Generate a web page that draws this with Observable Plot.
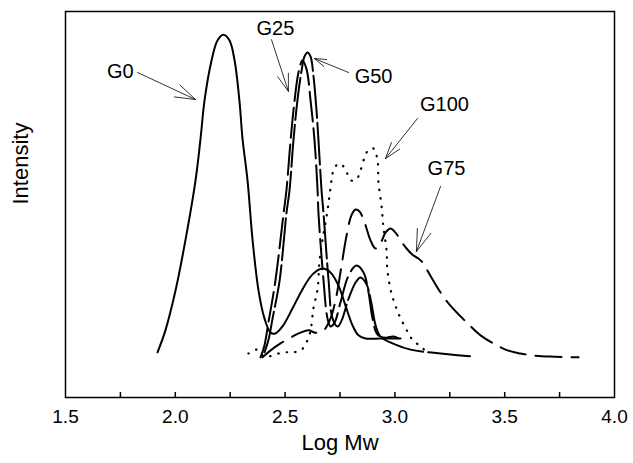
<!DOCTYPE html>
<html>
<head>
<meta charset="utf-8">
<script src="https://cdn.jsdelivr.net/npm/d3@7"></script>
<script src="https://cdn.jsdelivr.net/npm/@observablehq/plot@0.6"></script>
<style>
  html, body { margin: 0; padding: 0; background: #fff; }
  svg { display: block; }
</style>
</head>
<body>
<div id="chart"></div>
<script>
// Series: [Log Mw, intensity]
const G0 = [[1.919,11.7],[1.955,17.4],[2.001,27.7],[2.046,40.7],[2.092,56.2],[2.115,67.1],[2.133,76.9],[2.165,87.3],[2.192,92.5],[2.219,94.0],[2.247,92.5],[2.270,87.3],[2.292,76.9],[2.306,67.1],[2.329,56.2],[2.352,40.7],[2.379,27.7],[2.406,20.5],[2.434,16.8],[2.456,16.6],[2.488,18.4],[2.534,23.1],[2.579,28.0],[2.625,31.9],[2.670,33.4],[2.707,32.4],[2.743,29.0],[2.775,23.8],[2.807,18.7],[2.834,16.1],[2.866,15.3],[2.934,15.3],[3.026,15.3]];
const G25 = [[2.388,10.4],[2.406,13.5],[2.424,19.4],[2.456,30.3],[2.493,47.7],[2.506,53.6],[2.525,66.6],[2.543,76.9],[2.561,84.2],[2.579,87.3],[2.597,85.2],[2.616,76.9],[2.634,66.6],[2.648,53.6],[2.652,47.7],[2.675,30.3],[2.693,20.5],[2.707,18.4],[2.725,19.4],[2.752,24.6],[2.789,31.6],[2.825,34.2],[2.857,32.4],[2.880,27.2],[2.898,20.5],[2.921,16.3],[2.957,15.5],[2.994,15.8],[3.026,15.0]];
const G50 = [[2.406,11.7],[2.424,14.8],[2.443,20.5],[2.475,30.3],[2.506,47.7],[2.520,53.6],[2.538,66.6],[2.556,76.9],[2.575,84.7],[2.588,88.3],[2.602,89.4],[2.616,88.3],[2.629,83.4],[2.643,74.4],[2.652,66.6],[2.666,53.6],[2.675,47.7],[2.698,30.3],[2.716,20.5],[2.739,18.4],[2.757,19.9],[2.789,25.6],[2.821,29.8],[2.843,31.1],[2.871,29.3],[2.893,24.4],[2.912,18.7],[2.934,15.8],[3.003,13.7],[3.071,12.4],[3.208,11.4],[3.358,10.6]];
const G75 = [[2.397,10.4],[2.434,12.2],[2.479,14.0],[2.534,15.8],[2.570,16.8],[2.607,17.4],[2.638,16.8],[2.675,17.4],[2.707,20.5],[2.734,26.4],[2.757,34.2],[2.780,42.0],[2.802,47.2],[2.821,48.7],[2.839,48.2],[2.862,45.3],[2.889,40.7],[2.912,38.6],[2.934,39.9],[2.957,42.7],[2.980,43.8],[3.003,42.7],[3.026,40.7],[3.053,38.6],[3.080,37.0],[3.107,36.0],[3.126,35.0],[3.148,32.9],[3.208,27.2],[3.253,23.8],[3.331,19.2],[3.390,16.1],[3.449,14.0],[3.513,12.2],[3.572,11.4],[3.631,10.9],[3.709,10.6],[3.836,10.4]];
const G100 = [[2.333,11.4],[2.370,12.4],[2.406,10.6],[2.493,11.7],[2.538,11.7],[2.575,12.4],[2.597,14.2],[2.616,17.4],[2.629,23.1],[2.648,28.2],[2.657,35.5],[2.670,40.7],[2.693,48.4],[2.707,54.4],[2.720,58.8],[2.739,60.4],[2.757,60.4],[2.780,58.3],[2.802,56.2],[2.825,56.5],[2.843,58.8],[2.862,62.2],[2.880,64.2],[2.903,64.5],[2.921,61.4],[2.925,55.7],[2.939,49.7],[2.948,44.0],[2.962,38.1],[2.966,32.9],[2.985,26.9],[3.016,21.8],[3.057,17.1],[3.080,15.0],[3.117,13.2],[3.148,11.7]];

// Annotation labels
const labelText = ["G0", "G25", "G50", "G100", "G75"];
const labelX = [1.750, 2.456, 2.903, 3.226, 3.235];
const labelY = [84.5, 95.6, 83.2, 75.9, 59.3];

// Annotation arrows (tail -> tip)
const arrowX1 = [1.828, 2.438, 2.789, 3.103, 3.208];
const arrowY1 = [84.2, 92.7, 84.2, 72.3, 54.7];
const arrowX2 = [2.092, 2.515, 2.634, 2.957, 3.098];
const arrowY2 = [77.2, 79.3, 87.8, 61.9, 37.8];

// Axis ticks
const majorTicks = [1.5, 2.0, 2.5, 3.0, 3.5, 4.0];
const minorTicks = [1.75, 2.0, 2.25, 2.5, 2.75, 3.0, 3.25, 3.5, 3.75];
const xLabel = "Log Mw";
const yLabel = "Intensity";

const labels = labelText.map((t, i) => ({t, x: labelX[i], y: labelY[i]}));
const arrows = arrowX1.map((_, i) => ({x1: arrowX1[i], y1: arrowY1[i], x2: arrowX2[i], y2: arrowY2[i]}));

const font = "'Liberation Sans', Arial, Helvetica, sans-serif";
const line = (data, opts) => Plot.line(data, {x: d => d[0], y: d => d[1], curve: "catmull-rom", stroke: "black", strokeWidth: 2, ...opts});

const chart = Plot.plot({
  width: 633,
  height: 463,
  marginLeft: 65,
  marginRight: 19,
  marginTop: 11,
  marginBottom: 66,
  style: {fontFamily: font, background: "#fff", color: "#000"},
  x: {domain: [1.5, 4.0]},
  y: {domain: [0, 100], axis: null},
  marks: [
    Plot.ruleX(minorTicks, {x: d => d, insetTop: 381, stroke: "black", strokeWidth: 1.5}),
    Plot.axisX({ticks: majorTicks, tickFormat: d => d.toFixed(1), tickSize: 0, tickPadding: 12, fontSize: 19, label: null}),
    line(G0, {}),
    line(G25, {strokeDasharray: "30,7"}),
    line(G50, {strokeDasharray: "42,5"}),
    line(G75, {strokeDasharray: "26,10"}),
    line(G100, {strokeDasharray: "0.5,8", strokeLinecap: "round", strokeWidth: 2.2}),
    Plot.arrow(arrows, {x1: "x1", y1: "y1", x2: "x2", y2: "y2", stroke: "black", strokeWidth: 0.8, headLength: 45, headAngle: 36}),
    Plot.text(labels, {x: "x", y: "y", text: "t", fontSize: 20, fill: "black"}),
    Plot.text([xLabel], {frameAnchor: "bottom", text: d => d, dy: 52, fontSize: 22, fill: "black"}),
    Plot.text([yLabel], {frameAnchor: "left", text: d => d, dx: -45, rotate: -90, fontSize: 22, fill: "black"}),
    Plot.frame({stroke: "black", strokeWidth: 1.5})
  ]
});
document.getElementById("chart").appendChild(chart);
</script>
</body>
</html>
